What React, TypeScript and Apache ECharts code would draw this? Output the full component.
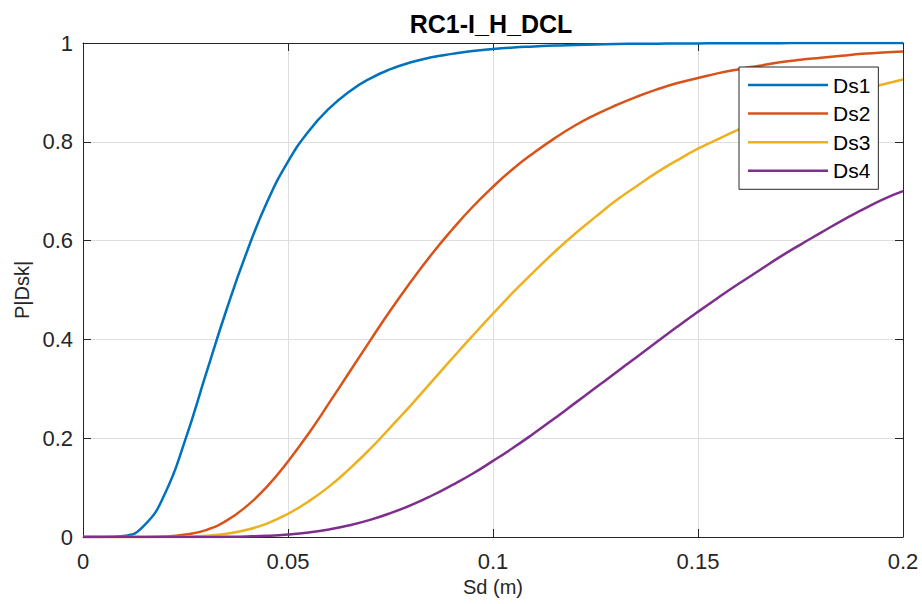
import React, { useEffect, useRef } from "react";
import * as echarts from "echarts";

const titleText = "RC1-I_H_DCL";
const xAxisTitle = "Sd (m)";
const yAxisTitle = "P|Dsk|";
const seriesNames = ["Ds1", "Ds2", "Ds3", "Ds4"];
const seriesColors = ["#0072BD", "#D95319", "#EDB120", "#7E2F8E"];

const sd = [
  0, 0.005, 0.01, 0.015, 0.02, 0.025, 0.03, 0.035, 0.04, 0.045, 0.05, 0.055, 0.06, 0.065, 0.07, 0.075, 0.08, 0.085,
  0.09, 0.095, 0.1, 0.105, 0.11, 0.115, 0.12, 0.125, 0.13, 0.135, 0.14, 0.145, 0.15, 0.155, 0.16, 0.165, 0.17, 0.175,
  0.18, 0.185, 0.19, 0.195, 0.2,
];

const ds1 = [
  0, 0, 0.002, 0.024, 0.088, 0.198, 0.33, 0.46, 0.578, 0.68, 0.76, 0.821, 0.867, 0.902, 0.928, 0.947, 0.961, 0.971,
  0.978, 0.984, 0.988, 0.991, 0.993, 0.995, 0.996, 0.997, 0.998, 0.9984, 0.9987, 0.999, 0.9992, 0.9994, 0.9995,
  0.9996, 0.9997, 0.9998, 0.9998, 0.9999, 0.9999, 0.9999, 0.9999,
];

const ds2 = [
  0, 0, 0, 0.0001, 0.001, 0.005, 0.014, 0.033, 0.063, 0.103, 0.153, 0.209, 0.271, 0.334, 0.397, 0.459, 0.517, 0.572,
  0.622, 0.668, 0.709, 0.746, 0.778, 0.807, 0.833, 0.855, 0.874, 0.891, 0.906, 0.919, 0.929, 0.939, 0.947, 0.954,
  0.961, 0.966, 0.97, 0.974, 0.978, 0.981, 0.983,
];

const ds3 = [
  0, 0, 0, 0, 0.0001, 0.0006, 0.0024, 0.0066, 0.0146, 0.0277, 0.047, 0.072, 0.102, 0.138, 0.178, 0.222, 0.267, 0.314,
  0.361, 0.407, 0.452, 0.496, 0.537, 0.577, 0.614, 0.648, 0.681, 0.71, 0.738, 0.763, 0.786, 0.806, 0.825, 0.843,
  0.858, 0.872, 0.885, 0.897, 0.907, 0.916, 0.926,
];

const ds4 = [
  0, 0, 0, 0, 0, 0, 0.0001, 0.0004, 0.0011, 0.0025, 0.0051, 0.0092, 0.0153, 0.0237, 0.0346, 0.0483, 0.0645, 0.0835,
  0.105, 0.128, 0.154, 0.181, 0.21, 0.24, 0.271, 0.302, 0.333, 0.364, 0.395, 0.426, 0.456, 0.485, 0.513, 0.54, 0.567,
  0.592, 0.616, 0.64, 0.662, 0.683, 0.7,
];

const allSeries = [ds1, ds2, ds3, ds4];

const FONT = "'Liberation Sans', Arial, Helvetica, sans-serif";
const AXIS_COLOR = "#262626";
const GRID_COLOR = "#dedede";

export default function App() {
  const ref = useRef<HTMLDivElement>(null);

  useEffect(() => {
    if (!ref.current) return;
    const chart = echarts.init(ref.current, undefined, { renderer: "svg" });

    const gridBox = { left: 83, right: 19, top: 43, bottom: 67 };

    const commonX = {
      type: "value" as const,
      min: 0,
      max: 0.2,
      interval: 0.05,
      axisLine: { show: true, onZero: false, lineStyle: { color: AXIS_COLOR, width: 1 } },
      axisTick: { show: true, inside: true, length: 8, lineStyle: { color: AXIS_COLOR, width: 1 } },
    };
    const commonY = {
      type: "value" as const,
      min: 0,
      max: 1,
      interval: 0.2,
      axisLine: { show: true, onZero: false, lineStyle: { color: AXIS_COLOR, width: 1 } },
      axisTick: { show: true, inside: true, length: 8, lineStyle: { color: AXIS_COLOR, width: 1 } },
    };

    chart.setOption({
      animation: false,
      backgroundColor: "#ffffff",
      textStyle: { fontFamily: FONT },
      grid: { ...gridBox, containLabel: false },
      xAxis: [
        {
          ...commonX,
          position: "bottom",
          name: xAxisTitle,
          nameLocation: "middle",
          nameGap: 40,
          nameTextStyle: { fontSize: 20, color: AXIS_COLOR, fontFamily: FONT },
          axisLabel: { show: true, fontSize: 22, color: AXIS_COLOR, margin: 13, fontFamily: FONT },
          splitLine: { show: true, lineStyle: { color: GRID_COLOR, width: 1 } },
        },
        {
          ...commonX,
          position: "top",
          axisLabel: { show: false },
          splitLine: { show: false },
        },
      ],
      yAxis: [
        {
          ...commonY,
          position: "left",
          name: yAxisTitle,
          nameLocation: "middle",
          nameGap: 51,
          nameRotate: 90,
          nameTextStyle: { fontSize: 20, color: AXIS_COLOR, fontFamily: FONT },
          axisLabel: { show: true, fontSize: 22, color: AXIS_COLOR, margin: 10, fontFamily: FONT },
          splitLine: { show: true, lineStyle: { color: GRID_COLOR, width: 1 } },
        },
        {
          ...commonY,
          position: "right",
          axisLabel: { show: false },
          splitLine: { show: false },
        },
      ],
      legend: {
        orient: "vertical",
        left: 739,
        top: 67,
        icon: "rect",
        itemWidth: 80,
        itemHeight: 2.5,
        itemGap: 7.6,
        padding: [7.5, 8, 8, 9],
        backgroundColor: "#ffffff",
        borderColor: AXIS_COLOR,
        borderWidth: 1,
        textStyle: { fontSize: 21, lineHeight: 21, color: "#000000", fontFamily: FONT },
        data: seriesNames,
      },
      graphic: [
        {
          type: "text",
          x: 491,
          y: 24,
          style: {
            text: titleText,
            fontSize: 25,
            fontWeight: "bold",
            fontFamily: FONT,
            fill: "#000000",
            align: "center",
            verticalAlign: "middle",
          },
        },
      ],
      series: allSeries.map((vals, i) => ({
        name: seriesNames[i],
        type: "line",
        xAxisIndex: 0,
        yAxisIndex: 0,
        data: sd.map((x, j) => [x, vals[j]]),
        showSymbol: false,
        symbol: "none",
        smooth: 0.5,
        lineStyle: { color: seriesColors[i], width: 2.5 },
        itemStyle: { color: seriesColors[i] },
      })),
    });

    return () => chart.dispose();
  }, []);

  return (
    <div
      ref={ref}
      style={{ position: "fixed", left: 0, top: 0, width: 922, height: 604, background: "#fff" }}
    />
  );
}
